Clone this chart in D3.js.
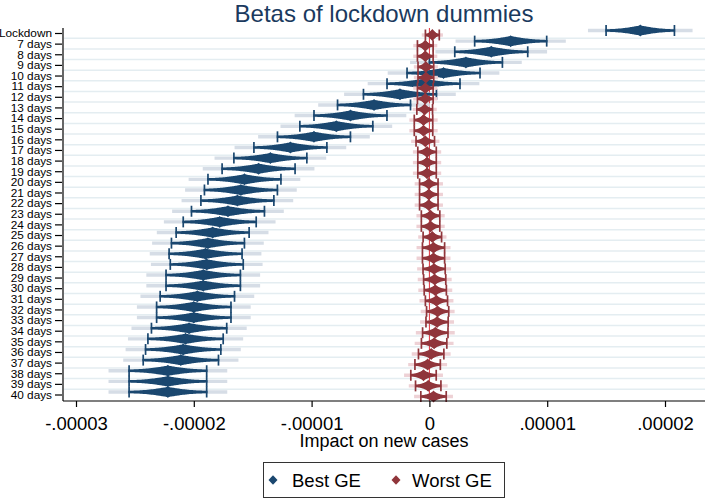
<!DOCTYPE html>
<html>
<head>
<meta charset="utf-8">
<script src="https://cdn.jsdelivr.net/npm/d3@7"></script>
<style>
body { margin: 0; background: #fff; }
svg { font-family: "Liberation Sans", Arial, sans-serif; }
</style>
</head>
<body>
<svg width="707" height="498"></svg>
<script>
var labels = ["Lockdown", "7 days", "8 days", "9 days", "10 days", "11 days", "12 days",
  "13 days", "14 days", "15 days", "16 days", "17 days", "18 days", "19 days", "20 days",
  "21 days", "22 days", "23 days", "24 days", "25 days", "26 days", "27 days", "28 days",
  "29 days", "30 days", "31 days", "32 days", "33 days", "34 days", "35 days", "36 days",
  "37 days", "38 days", "39 days", "40 days"];

// Best GE coefficients and standard errors
var bestCoef = [17.9e-6, 6.9e-6, 5.25e-6, 3.1e-6, 1.2e-6, -0.5e-6, -2.5e-6, -4.7e-6, -6.7e-6,
  -7.9e-6, -9.8e-6, -11.8e-6, -13.5e-6, -14.5e-6, -15.7e-6, -16.0e-6, -16.3e-6, -17.1e-6,
  -17.8e-6, -18.4e-6, -18.8e-6, -19.0e-6, -18.9e-6, -19.2e-6, -19.2e-6, -19.7e-6, -20.0e-6,
  -20.0e-6, -20.4e-6, -20.7e-6, -20.9e-6, -21.1e-6, -22.2e-6, -22.2e-6, -22.2e-6];
var bestSE = [1.48e-6, 1.56e-6, 1.58e-6, 1.58e-6, 1.58e-6, 1.58e-6, 1.58e-6, 1.58e-6, 1.58e-6,
  1.58e-6, 1.58e-6, 1.58e-6, 1.58e-6, 1.58e-6, 1.58e-6, 1.58e-6, 1.58e-6, 1.58e-6, 1.58e-6,
  1.58e-6, 1.58e-6, 1.58e-6, 1.58e-6, 1.61e-6, 1.61e-6, 1.61e-6, 1.61e-6, 1.61e-6, 1.63e-6,
  1.63e-6, 1.63e-6, 1.63e-6, 1.68e-6, 1.68e-6, 1.68e-6];

// Worst GE coefficients and standard errors
var worstCoef = [0.25e-6, -0.35e-6, -0.35e-6, -0.3e-6, -0.3e-6, -0.35e-6, -0.35e-6, -0.4e-6,
  -0.5e-6, -0.5e-6, -0.35e-6, -0.2e-6, -0.2e-6, -0.2e-6, -0.05e-6, -0.05e-6, -0.05e-6, 0.1e-6,
  0.1e-6, 0.25e-6, 0.35e-6, 0.35e-6, 0.4e-6, 0.45e-6, 0.5e-6, 0.6e-6, 0.7e-6, 0.65e-6, 0.5e-6,
  0.4e-6, 0.15e-6, -0.15e-6, -0.5e-6, -0.1e-6, 0.35e-6];
var worstSE = [0.30e-6, 0.34e-6, 0.34e-6, 0.34e-6, 0.34e-6, 0.34e-6, 0.34e-6, 0.34e-6, 0.40e-6,
  0.40e-6, 0.40e-6, 0.40e-6, 0.40e-6, 0.40e-6, 0.40e-6, 0.40e-6, 0.40e-6, 0.40e-6, 0.40e-6,
  0.40e-6, 0.48e-6, 0.48e-6, 0.48e-6, 0.48e-6, 0.48e-6, 0.48e-6, 0.48e-6, 0.48e-6, 0.55e-6,
  0.55e-6, 0.55e-6, 0.55e-6, 0.55e-6, 0.55e-6, 0.55e-6];

var xTickValues = [-0.00003, -0.00002, -0.00001, 0, 0.00001, 0.00002];
var xTickLabels = ["-.00003", "-.00002", "-.00001", "0", ".00001", ".00002"];

var svg = d3.select("svg");
var navy = "#1a476f", navyLight = "#d6dde6";
var maroon = "#90353b", maroonLight = "#eed1d5";

var plotTop = 28, plotBottom = 401, plotLeft = 63, plotRight = 705;

var x = d3.scaleLinear().domain([-0.00003, 0.00002]).range([76, 665]);
var y = d3.scalePoint().domain(labels).range([33, 394.5]);
var step = y.step();

// gridlines between categories
svg.append("g")
  .selectAll("line")
  .data(labels.slice(0, -1))
  .join("line")
  .attr("x1", plotLeft + 1)
  .attr("x2", plotRight)
  .attr("y1", (d) => y(d) + step / 2)
  .attr("y2", (d) => y(d) + step / 2)
  .attr("stroke", "#e4edf1")
  .attr("stroke-width", 1.5);

// xline at zero
svg.append("line")
  .attr("x1", x(0)).attr("x2", x(0))
  .attr("y1", plotTop).attr("y2", plotBottom)
  .attr("stroke", "#e0303c")
  .attr("stroke-width", 1);

function normCdf(u) {
  var t = 1 / (1 + 0.3275911 * Math.abs(u) / Math.SQRT2);
  var e = 1 - (((((1.061405429 * t - 1.453152027) * t) + 1.421413741) * t - 0.284496736) * t + 0.254829592) * t * Math.exp(-u * u / 2);
  return u >= 0 ? 0.5 * (1 + e) : 0.5 * (1 - e);
}

var uSteps = d3.range(-2.0, 2.0001, 0.05);

// half thickness of the smoothed interval at distance u (in se)
function halfThick(u) {
  return 1.2 + 3.9 * (1 - (2 * normCdf(Math.abs(u)) - 1) / 0.9545);
}

function drawSeries(coef, se, dy, dark, light) {
  var g = svg.append("g");
  labels.forEach(function (lab, i) {
    var yc = y(lab) + dy;
    var b = coef[i], s = se[i];

    // faint outer interval
    g.append("line")
      .attr("x1", x(b - 3.0 * s)).attr("x2", x(b + 3.0 * s))
      .attr("y1", yc).attr("y2", yc)
      .attr("stroke", light)
      .attr("stroke-width", 3.4);

    // smoothed interval (spindle)
    var area = d3.area()
      .x((u) => x(b + u * s))
      .y0((u) => yc - halfThick(u))
      .y1((u) => yc + halfThick(u));
    g.append("path")
      .attr("d", area(uSteps))
      .attr("fill", dark);

    // caps at 95%
    [-1.96, 1.96].forEach(function (z) {
      g.append("line")
        .attr("x1", x(b + z * s)).attr("x2", x(b + z * s))
        .attr("y1", yc - 5.5).attr("y2", yc + 5.5)
        .attr("stroke", dark)
        .attr("stroke-width", 1.7);
    });

    // diamond marker
    var cx = x(b);
    g.append("path")
      .attr("d", "M" + cx + "," + (yc - 6) + "L" + (cx + 5.5) + "," + yc + "L" + cx + "," + (yc + 6) + "L" + (cx - 5.5) + "," + yc + "Z")
      .attr("fill", dark);
  });
}

drawSeries(bestCoef, bestSE, -2.5, navy, navyLight);
drawSeries(worstCoef, worstSE, 2, maroon, maroonLight);

// y axis
var yAxis = svg.append("g")
  .attr("transform", "translate(" + (plotLeft - 1) + ",0)")
  .call(d3.axisLeft(y).tickSize(7).tickPadding(3).tickSizeOuter(0));
yAxis.select(".domain").remove();
yAxis.selectAll("text").attr("font-size", "11.8px").attr("fill", "#000").attr("font-family", "Liberation Sans, Arial, sans-serif");
yAxis.selectAll("line").attr("stroke", "#000").attr("stroke-width", 1.2);

svg.append("line")
  .attr("x1", plotLeft).attr("x2", plotLeft)
  .attr("y1", plotTop).attr("y2", plotBottom)
  .attr("stroke", "#000").attr("stroke-width", 1.2);

// x axis
var xAxis = svg.append("g")
  .attr("transform", "translate(0," + plotBottom + ")")
  .call(d3.axisBottom(x)
    .tickValues(xTickValues)
    .tickFormat((d, i) => xTickLabels[i])
    .tickSize(6).tickPadding(10).tickSizeOuter(0));
xAxis.select(".domain").remove();
xAxis.selectAll("text").attr("font-size", "18.5px").attr("fill", "#000").attr("font-family", "Liberation Sans, Arial, sans-serif");
xAxis.selectAll("line").attr("stroke", "#000").attr("stroke-width", 1.2);

svg.append("line")
  .attr("x1", plotLeft).attr("x2", plotRight)
  .attr("y1", plotBottom).attr("y2", plotBottom)
  .attr("stroke", "#000").attr("stroke-width", 1.2);

// titles
svg.append("text")
  .attr("x", (plotLeft + plotRight) / 2)
  .attr("y", 22)
  .attr("text-anchor", "middle")
  .attr("font-size", "24px")
  .attr("fill", "#1a3a5e")
  .text("Betas of lockdown dummies");

svg.append("text")
  .attr("x", (plotLeft + plotRight) / 2)
  .attr("y", 447)
  .attr("text-anchor", "middle")
  .attr("font-size", "18px")
  .attr("fill", "#000")
  .text("Impact on new cases");

// legend
var legend = svg.append("g");
legend.append("rect")
  .attr("x", 263.5).attr("y", 462.5)
  .attr("width", 241).attr("height", 35)
  .attr("fill", "#fff")
  .attr("stroke", "#333")
  .attr("stroke-width", 1);

var legendItems = [
  { name: "Best GE", color: navy, mx: 273, tx: 292 },
  { name: "Worst GE", color: maroon, mx: 396, tx: 412 }
];
legendItems.forEach(function (d) {
  var my = 480;
  legend.append("path")
    .attr("d", "M" + d.mx + "," + (my - 4.8) + "L" + (d.mx + 4.5) + "," + my + "L" + d.mx + "," + (my + 4.8) + "L" + (d.mx - 4.5) + "," + my + "Z")
    .attr("fill", d.color);
  legend.append("text")
    .attr("x", d.tx).attr("y", 487)
    .attr("font-size", "18.5px")
    .attr("fill", "#000")
    .text(d.name);
});
</script>
</body>
</html>
